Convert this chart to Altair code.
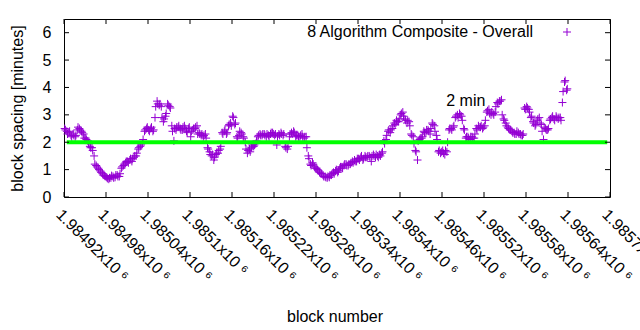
import altair as alt
import pandas as pd

# ---- data -------------------------------------------------------------
block_start = 1984921
block_step = 3
spacing = [
    2.5, 2.4, 2.35, 2.25, 2.3,
    2.2, 2.45, 2.5, 2.4, 2.3,
    2.15, 2.05, 1.85, 1.8, 1.5,
    1.15, 1.05, 0.95, 0.85, 0.78,
    0.72, 0.65, 0.7, 0.75, 0.72,
    0.8, 0.75, 1.05, 1.15, 1.25,
    1.3, 1.35, 1.3, 1.45, 1.5,
    1.75, 1.85, 1.95, 2.4, 2.5,
    2.45, 2.5, 2.4, 2.9, 3.5,
    3.35, 3.3, 2.75, 2.95, 3.4,
    3.3, 2.6, 2.05, 2.45, 2.55,
    2.5, 2.45, 2.6, 2.4, 2.5,
    2.2, 2.45, 2.5, 2.6, 2.35,
    2.25, 2.2, 2.3, 1.8, 1.65,
    1.5, 1.35, 1.55, 1.6, 1.75,
    2.35, 2.4, 2.3, 2.6, 2.7,
    2.95, 2.65, 2.2, 2.25, 2.35,
    2.2, 2.0, 1.6, 1.75, 1.8,
    1.85, 1.95, 2.2, 2.3, 2.25,
    2.3, 2.2, 2.25, 2.3, 2.35,
    2.25, 1.9, 2.3, 2.35, 2.25,
    1.85, 1.75, 2.2, 2.35, 2.4,
    2.2, 2.25, 2.2, 2.3, 2.15,
    2.2, 1.5, 1.2, 1.25, 1.1,
    1.05, 0.95, 0.85, 0.8, 0.75,
    0.7, 0.72, 0.8, 0.9, 0.95,
    0.9, 1.05, 1.1, 1.15, 1.2,
    1.15, 1.2, 1.3, 1.35, 1.3,
    1.4, 1.45, 1.35, 1.5, 1.45,
    1.5, 1.3, 1.55, 1.45, 1.5,
    1.55, 1.6, 2.05, 2.1, 2.4,
    2.35, 2.5, 2.7, 2.8, 2.75,
    3.0, 3.1, 2.85, 2.7, 2.75,
    2.3, 2.2, 1.7, 1.35, 2.1,
    2.15, 2.4, 2.35, 2.45, 2.3,
    2.7, 2.6, 2.25, 1.65, 1.6,
    1.7, 1.55, 1.65, 2.45, 2.5,
    2.55, 2.9, 3.0, 3.05, 2.95,
    2.5, 2.15, 2.2, 2.1, 2.2,
    2.15, 2.5, 2.6, 2.55, 2.5,
    2.6, 3.1, 3.2, 3.0, 3.05,
    3.1, 3.45, 3.5, 3.55, 2.85,
    2.7, 2.55, 2.45, 2.4, 2.35,
    2.3, 2.35, 2.3, 2.25, 3.25,
    3.3, 3.2, 2.9, 2.75, 2.6,
    2.8, 2.9, 2.65, 2.1, 2.5,
    2.45, 2.8, 2.9, 2.85, 2.95,
    2.85, 2.9, 3.45, 4.2, 3.9,
]
# values of the blocks in between (block_start + 1 + 3*i)
spacing_mid = [
    2.45, 2.3, 2.4, 2.2, 2.25,
    2.25, 2.55, 2.45, 2.35, 2.15,
    2.1, 1.95, 1.8, 1.7, 1.2,
    1.1, 1.0, 0.9, 0.8, 0.75,
    0.68, 0.7, 0.78, 0.7, 0.8,
    0.75, 0.85, 1.1, 1.2, 1.3,
    1.25, 1.4, 1.4, 1.5, 1.6,
    1.8, 1.9, 2.1, 2.45, 2.55,
    2.4, 2.55, 2.45, 3.3, 3.4,
    3.4, 2.9, 2.85, 3.05, 3.35,
    3.25, 2.4, 2.5, 2.55, 2.6,
    2.45, 2.55, 2.5, 2.35, 2.55,
    2.4, 2.5, 2.55, 2.3, 2.3,
    2.3, 2.25, 2.15, 1.75, 1.55,
    1.55, 1.45, 1.6, 1.7, 1.85,
    2.3, 2.45, 2.35, 2.65, 2.6,
    2.9, 2.7, 2.15, 2.4, 2.3,
    2.15, 1.75, 1.7, 1.65, 1.9,
    1.9, 2.05, 2.25, 2.25, 2.3,
    2.25, 2.3, 2.2, 2.35, 2.3,
    2.3, 2.2, 2.25, 2.3, 2.3,
    1.8, 1.85, 2.3, 2.3, 2.35,
    2.25, 2.2, 2.25, 2.2, 2.2,
    1.8, 1.4, 1.15, 1.2, 1.05,
    1.0, 0.9, 0.85, 0.75, 0.72,
    0.75, 0.8, 0.85, 0.85, 1.0,
    0.95, 1.1, 1.05, 1.2, 1.15,
    1.2, 1.25, 1.25, 1.3, 1.4,
    1.35, 1.5, 1.4, 1.45, 1.5,
    1.45, 1.5, 1.5, 1.55, 1.45,
    1.5, 1.65, 1.95, 2.25, 2.45,
    2.45, 2.6, 2.65, 2.75, 2.85,
    3.05, 2.95, 2.8, 2.8, 2.6,
    2.25, 1.95, 1.65, 2.05, 2.15,
    2.2, 2.35, 2.45, 2.4, 2.5,
    2.65, 2.4, 2.1, 1.7, 1.65,
    1.6, 1.7, 2.0, 2.5, 2.45,
    2.6, 2.95, 2.9, 3.0, 2.8,
    2.45, 2.2, 2.15, 2.2, 2.15,
    2.3, 2.45, 2.55, 2.6, 2.55,
    2.8, 3.15, 3.05, 3.1, 3.0,
    3.3, 3.4, 3.5, 3.0, 2.8,
    2.6, 2.5, 2.45, 2.35, 2.3,
    2.4, 2.3, 2.25, 2.3, 3.2,
    3.25, 3.1, 2.95, 2.7, 2.65,
    2.85, 2.7, 2.4, 2.55, 2.45,
    2.5, 2.85, 2.95, 2.8, 2.9,
    2.9, 2.8, 3.85, 4.25, 3.95,
]
blocks = [block_start + block_step * i for i in range(len(spacing))]
blocks_mid = [block_start + 1 + block_step * i for i in range(len(spacing_mid))]

x_ticks = [1984920, 1984980, 1985040, 1985100, 1985160, 1985220, 1985280,
           1985340, 1985400, 1985460, 1985520, 1985580, 1985640, 1985700]
y_ticks = [0, 1, 2, 3, 4, 5, 6]
x_domain = [1984920, 1985700]
y_domain = [0, 6.5]

target_value = [2]
target_from = [1984924]
target_to = [1985696]

legend_label = "8 Algorithm Composite - Overall"
note_label = ["2 min"]
note_block = [1985494]
note_value = [3.5]

# ---- styling ----------------------------------------------------------
W, H = 546, 178
FONT = "Liberation Sans"
PURPLE = "#9400D3"
PLUS = "M-1,0L1,0M0,-1L0,1"

xs = alt.Scale(domain=x_domain, nice=False, zero=False)
ys = alt.Scale(domain=y_domain, nice=False, zero=True)

df = pd.DataFrame({"block": blocks + blocks_mid, "spacing": spacing + spacing_mid})

x_axis = alt.Axis(
    values=x_ticks,
    labelExpr="format(datum.value / 1000000, '.6~g') + 'x10 \u2076'",
    labelAngle=45, labelAlign="left", labelBaseline="top",
    labelPadding=9, tickSize=0, domain=False, grid=False,
    labelOverlap=False, labelFlush=False, labelBound=False,
    labelFont=FONT, labelFontSize=16, labelColor="black",
    title="block number", titleFont=FONT, titleFontSize=16,
    titleFontWeight="normal", titleColor="black",
    titleX=270.5, titleY=119, titleBaseline="middle", titleAlign="center",
)
y_axis = alt.Axis(
    values=y_ticks, labelPadding=13, tickSize=0, domain=False, grid=False,
    labelOverlap=False, labelFlush=False, labelBound=False,
    labelFont=FONT, labelFontSize=16, labelColor="black",
    title="block spacing [minutes]", titleFont=FONT, titleFontSize=16,
    titleFontWeight="normal", titleColor="black",
    titleX=-47, titleBaseline="middle",
)

points = alt.Chart(df).mark_point(
    shape=PLUS, filled=False, color=PURPLE, strokeWidth=1, size=64, opacity=1
).encode(
    x=alt.X("block:Q", scale=xs, axis=x_axis),
    y=alt.Y("spacing:Q", scale=ys, axis=y_axis),
)

target = alt.Chart(pd.DataFrame({"block": target_from, "x2": target_to, "spacing": target_value})).mark_rule(
    color="#00ff00", strokeWidth=4, strokeCap="butt"
).encode(
    x=alt.X("block:Q", scale=xs, axis=x_axis), x2="x2:Q",
    y=alt.Y("spacing:Q", scale=ys, axis=y_axis)
)

note = alt.Chart(pd.DataFrame({"block": note_block, "spacing": note_value, "t": note_label})).mark_text(
    font=FONT, fontSize=16, color="black", align="center", baseline="middle"
).encode(
    x=alt.X("block:Q", scale=xs, axis=x_axis),
    y=alt.Y("spacing:Q", scale=ys, axis=y_axis), text="t:N"
)

tick_len = 5
xt = pd.DataFrame({"block": x_ticks})
yt = pd.DataFrame({"spacing": y_ticks})
xticks_bottom = alt.Chart(xt).mark_rule(color="black", strokeWidth=1).encode(
    x=alt.X("block:Q", scale=xs, axis=x_axis), y=alt.value(H), y2=alt.value(H - tick_len))
xticks_top = alt.Chart(xt).mark_rule(color="black", strokeWidth=1).encode(
    x=alt.X("block:Q", scale=xs, axis=x_axis), y=alt.value(0), y2=alt.value(tick_len))
yticks_left = alt.Chart(yt).mark_rule(color="black", strokeWidth=1).encode(
    y=alt.Y("spacing:Q", scale=ys, axis=y_axis), x=alt.value(0), x2=alt.value(tick_len))
yticks_right = alt.Chart(yt).mark_rule(color="black", strokeWidth=1).encode(
    y=alt.Y("spacing:Q", scale=ys, axis=y_axis), x=alt.value(W), x2=alt.value(W - tick_len))

leg_df = pd.DataFrame({"t": [legend_label]})
legend_text = alt.Chart(leg_df).mark_text(
    font=FONT, fontSize=16, color="black", align="right", baseline="middle"
).encode(x=alt.value(469), y=alt.value(13), text="t:N")
legend_mark = alt.Chart(leg_df).mark_point(
    shape=PLUS, filled=False, color=PURPLE, strokeWidth=1, size=64, opacity=1
).encode(x=alt.value(503), y=alt.value(13))

chart = alt.layer(
    points, target, note, xticks_bottom, xticks_top, yticks_left, yticks_right,
    legend_text, legend_mark,
).properties(
    width=W, height=H,
    padding={"left": 64, "top": 19, "right": 30, "bottom": 133},
    autosize=alt.AutoSizeParams(type="none"),
    background="white",
).configure_view(
    stroke="black", strokeWidth=1
).configure_axis(labelOverlap=False)

chart.save("out.html", embed_options={"renderer": "svg", "actions": False})
